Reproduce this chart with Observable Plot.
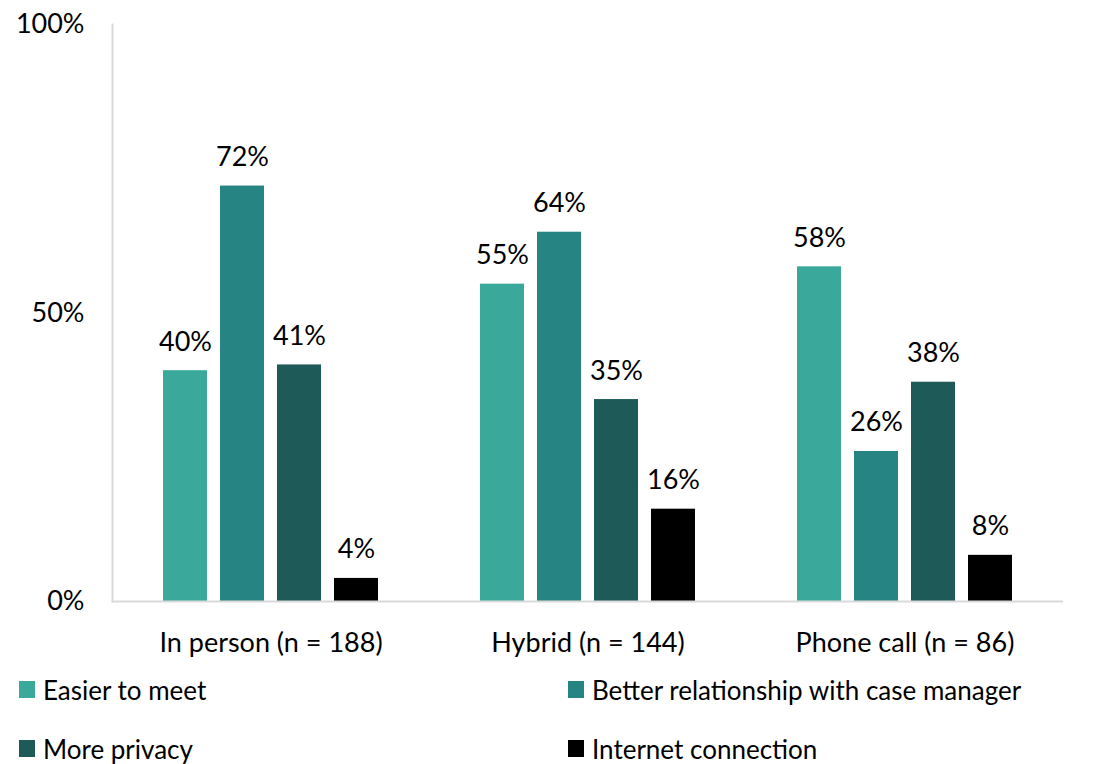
<!DOCTYPE html>
<html><head><meta charset="utf-8">
<script src="https://cdn.jsdelivr.net/npm/d3@7"></script>
<script src="https://cdn.jsdelivr.net/npm/@observablehq/plot@0.6"></script>
<style>
html,body{margin:0;padding:0;background:#fff;}
body{font-family:Lato, "Open Sans", sans-serif;color:#000;width:1096px;height:764px;overflow:hidden;}
#legend{display:grid;grid-template-columns:549px auto;grid-auto-rows:59px;padding-left:19px;font-size:26px;}
.item{display:flex;align-items:center;}
.sw{width:16px;height:17px;margin-right:8px;flex:none;}
</style></head><body>
<div id="chart"></div>
<div id="legend"></div>
<script>
const groups = ["In person (n = 188)", "Hybrid (n = 144)", "Phone call (n = 86)"];
const series = ["Easier to meet", "Better relationship with case manager", "More privacy", "Internet connection"];
const colors = ["#3aa89a", "#268482", "#1e5a58", "#000000"];
const easier = [40, 55, 58];
const better = [72, 64, 26];
const privacy = [41, 35, 38];
const internet = [4, 16, 8];
const yTicks = [0, 50, 100];

const valuesBySeries = [easier, better, privacy, internet];
const data = [];
groups.forEach((g, gi) => series.forEach((s, si) => data.push({group: g, series: s, value: valuesBySeries[si][gi]})));

const chart = Plot.plot({
  width: 1096, height: 660,
  marginLeft: 111, marginRight: 33, marginTop: 24, marginBottom: 59,
  style: {fontFamily: "Lato, 'Open Sans', sans-serif", fontSize: "27px", color: "#000", background: "#fff"},
  fx: {domain: groups, padding: 0, label: null, axis: "bottom", tickSize: 0, tickPadding: 31},
  x: {domain: series, paddingInner: 0.22, paddingOuter: 0.857, axis: null},
  y: {domain: [0, 100], ticks: yTicks, tickFormat: d => d + "%", label: null, tickSize: 0, tickPadding: 28},
  color: {domain: series, range: colors},
  marks: [
    Plot.barY(data, {fx: "group", x: "series", y: "value", fill: "series"}),
    Plot.ruleY([0], {stroke: "#d9d9d9", strokeWidth: 2}),
    Plot.frame({anchor: "left", stroke: "#d9d9d9", strokeWidth: 2, facet: "super"}),
    Plot.text(data, {fx: "group", x: "series", y: "value", text: d => d.value + "%", lineAnchor: "bottom", dy: -20, fill: "#000", fontSize: 27})
  ]
});
document.getElementById("chart").appendChild(chart);

const legend = document.getElementById("legend");
series.forEach((s, i) => {
  const it = document.createElement("div");
  it.className = "item";
  it.innerHTML = `<span class="sw" style="background:${colors[i]}"></span><span>${s}</span>`;
  legend.appendChild(it);
});
</script>
</body></html>
